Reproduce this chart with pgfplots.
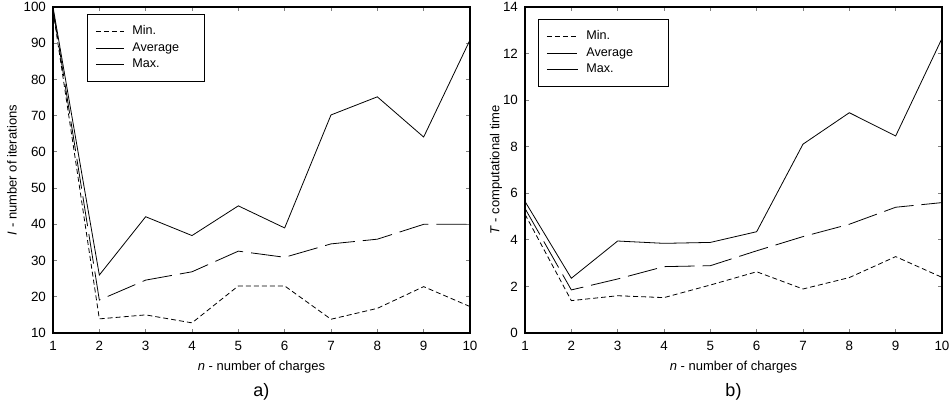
\documentclass[border=0pt]{standalone}
\usepackage{fontspec}
\setmainfont{Liberation Sans}
\usepackage{pgfplots}
\pgfplotsset{compat=1.18}
\begin{document}
\begin{tikzpicture}
\useasboundingbox (-26.5pt,-37pt) rectangle (448pt,166.5pt);
\pgfplotsset{
  every axis/.append style={
    scale only axis, width=208.5pt, height=163pt, clip=false,
    xmin=1, xmax=10, xtick={1,...,10},
    axis line style={line width=0.7pt},
    major tick length=2pt, tick align=inside, tick style={line width=0.4pt},
    tick label style={font=\fontsize{6.7}{7}\selectfont},
    /pgf/number format/assume math mode=true,
    label style={font=\fontsize{6.5}{7}\selectfont},
    xlabel style={at={(axis description cs:0.5,0)}, anchor=center, yshift=-17pt},
    xticklabel style={yshift=-0.5pt},
    legend cell align=left,
    legend style={font=\fontsize{6.3}{7}\selectfont, draw=black, line width=0.6pt,
      inner xsep=4pt, inner ysep=3.5pt, row sep=-1.6pt, anchor=north west},
  },
  minl/.style={black, line width=0.4pt, dash pattern=on 2.5pt off 1.5pt},
  avgl/.style={black, line width=0.4pt, dash pattern=on 15pt off 4pt},
  maxl/.style={black, line width=0.4pt},
}
\begin{axis}[at={(0,0)}, anchor=south west,
  ymin=10, ymax=100, ytick={10,20,...,100},
  xlabel={\textit{n} - number of charges},
  ylabel={\textit{I} - number of iterations},
  ylabel style={at={(axis description cs:-0.0983,0.5)}, anchor=center},
  legend style={at={(0.0815,0.9785)}},
  legend image code/.code={\draw[#1, line width=0.4pt] (0pt,0pt) -- (14pt,0pt);},
]
\addplot[minl] coordinates {(1,99) (2,13.9) (3,15.0) (4,12.8) (5,23.0) (6,23.0) (7,13.8) (8,16.8) (9,22.8) (10,17.3)};
\addlegendentry{\hspace{2pt}\makebox[30pt][l]{Min.}}
\addplot[avgl] coordinates {(1,99.5) (2,19.1) (3,24.6) (4,26.9) (5,32.6) (6,30.9) (7,34.6) (8,35.9) (9,40.0) (10,40.0)};
\addlegendentry{\hspace{2pt}\makebox[30pt][l]{Average}}
\addplot[maxl] coordinates {(1,100) (2,26.0) (3,42.1) (4,36.9) (5,45.1) (6,39.0) (7,70.2) (8,75.2) (9,64.1) (10,90.9)};
\addlegendentry{\hspace{2pt}\makebox[30pt][l]{Max.}}
\node[font=\fontsize{9}{10}\selectfont] at (rel axis cs:0.5,0) [yshift=-29.5pt] {a)};
\end{axis}
\begin{axis}[at={(236pt,0)}, anchor=south west,
  ymin=0, ymax=14, ytick={0,2,...,14},
  xlabel={\textit{n} - number of charges},
  ylabel={\textit{T} - computational time},
  ylabel style={at={(axis description cs:-0.0697,0.5)}, anchor=center},
  legend style={at={(0.031,0.963)}},
  legend image code/.code={\draw[#1, line width=0.4pt] (0pt,0pt) -- (15.5pt,0pt);},
]
\addplot[minl] coordinates {(1,5.1) (2,1.39) (3,1.60) (4,1.52) (5,2.06) (6,2.63) (7,1.89) (8,2.38) (9,3.28) (10,2.39)};
\addlegendentry{\hspace{2pt}\makebox[35pt][l]{Min.}}
\addplot[avgl] coordinates {(1,5.35) (2,1.85) (3,2.32) (4,2.85) (5,2.89) (6,3.53) (7,4.14) (8,4.67) (9,5.40) (10,5.60)};
\addlegendentry{\hspace{2pt}\makebox[35pt][l]{Average}}
\addplot[maxl] coordinates {(1,5.65) (2,2.35) (3,3.95) (4,3.85) (5,3.89) (6,4.35) (7,8.11) (8,9.46) (9,8.46) (10,12.65)};
\addlegendentry{\hspace{2pt}\makebox[35pt][l]{Max.}}
\node[font=\fontsize{9}{10}\selectfont] at (rel axis cs:0.5,0) [yshift=-29.5pt] {b)};
\end{axis}
\end{tikzpicture}
\end{document}
